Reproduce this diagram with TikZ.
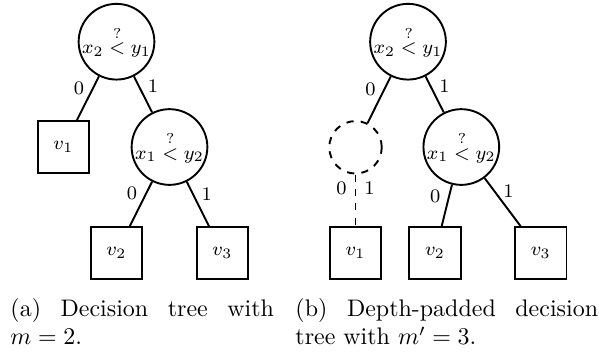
\documentclass[tikz,border=0pt]{standalone}
\begin{document}
\begin{tikzpicture}[x=0.41736pt,y=-0.41736pt, line width=0.8pt,
  every node/.style={font=\fontsize{8}{9.6}\selectfont},
  dec/.style={circle,draw,minimum size=31.6pt,inner sep=0pt},
  pad/.style={circle,draw,dashed,minimum size=21.9pt,inner sep=0pt},
  leaf/.style={rectangle,draw,minimum size=21.5pt,inner sep=0pt},
  lbl/.style={pos=0.27},
  captext/.style={anchor=base west,inner sep=0pt,font=\normalsize}]
\useasboundingbox (0,0) rectangle (599,351);
% (a)
\node[dec] (a1) at (116.5,41.7) {$x_2 \stackrel{?}{<} y_1$};
\node[leaf] (av1) at (63.3,147) {$v_1$};
\node[dec] (a2) at (169.5,147) {$x_1 \stackrel{?}{<} y_2$};
\node[leaf] (av2) at (116.3,253) {$v_2$};
\node[leaf] (av3) at (222.3,253) {$v_3$};
\draw (a1) -- node[lbl,left]{0} (av1);
\draw (a1) -- node[lbl,right]{1} (a2);
\draw (a2) -- node[lbl,left]{0} (av2);
\draw (a2) -- node[lbl,right]{1} (av3);
% (b)
\node[dec] (b1) at (408,41.7) {$x_2 \stackrel{?}{<} y_1$};
\node[pad] (bp) at (355.5,147.3) {};
\node[dec] (b2) at (461.3,147) {$x_1 \stackrel{?}{<} y_2$};
\node[leaf] (bv1) at (355.5,253) {$v_1$};
\node[leaf] (bv2) at (435,253) {$v_2$};
\node[leaf] (bv3) at (540.7,253) {$v_3$};
\draw (b1) -- node[lbl,left]{0} (bp);
\draw (b1) -- node[lbl,right]{1} (b2);
\draw[dashed] (bp) -- node[lbl,left]{0} node[lbl,right]{1} (bv1);
\draw (b2) -- node[lbl,left]{0} (bv2);
\draw (b2) -- node[lbl,right]{1} (bv3);
% captions
\node[captext] (capa) at (9.5,316) {\parbox[t]{110pt}{\tolerance=10000\hyphenpenalty=10000 (a) Decision tree with\linebreak $m=2$.}};
\node[captext] (capb) at (294.5,316) {\parbox[t]{126.3pt}{\tolerance=10000\hyphenpenalty=10000 (b) Depth-padded decision\linebreak tree with $m'=3$.}};
\end{tikzpicture}
\end{document}
